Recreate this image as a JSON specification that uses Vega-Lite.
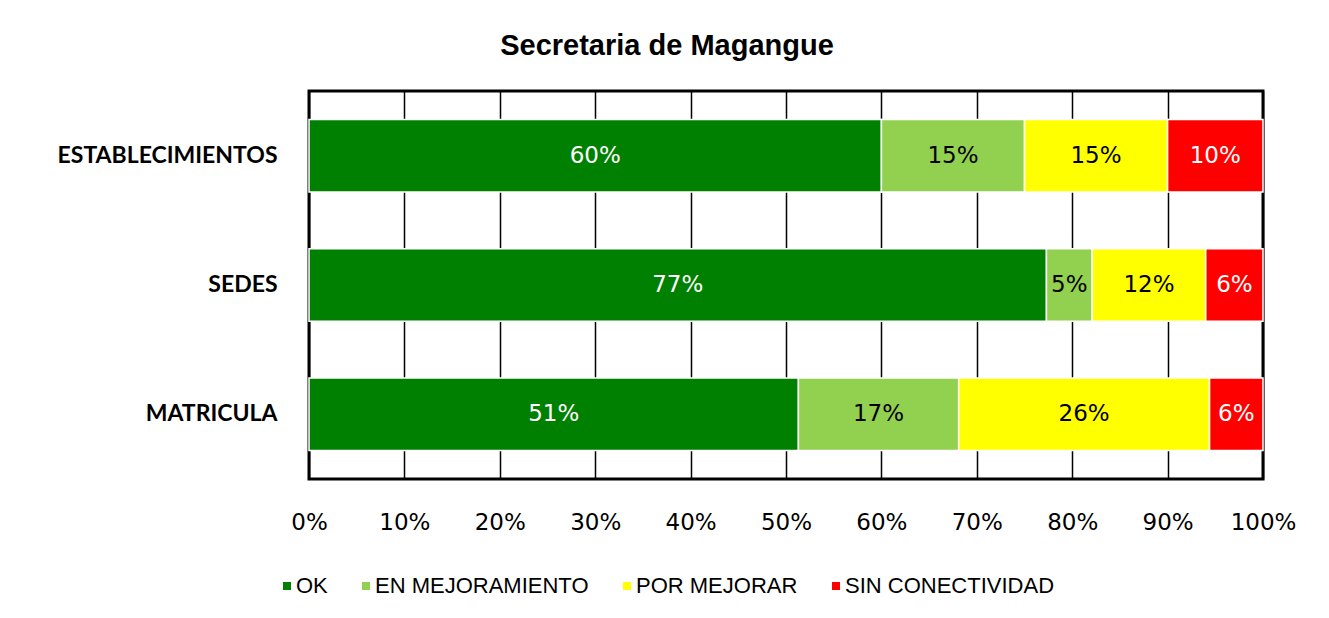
{
  "$schema": "https://vega.github.io/schema/vega-lite/v6.json",
  "autosize": {"type": "none"},
  "width": 954,
  "height": 388,
  "padding": {"left": 309, "top": 91, "right": 66, "bottom": 139},
  "background": "white",
  "title": {
    "text": "Secretaria de Magangue",
    "font": "Liberation Sans",
    "fontSize": 29,
    "fontWeight": "bold",
    "color": "black",
    "anchor": "middle",
    "frame": "group",
    "dx": -119,
    "offset": 30
  },
  "data": {
    "values": [
      {"cat": "ESTABLECIMIENTOS", "status": "OK", "ord": 1, "value": 0.60},
      {"cat": "ESTABLECIMIENTOS", "status": "EN MEJORAMIENTO", "ord": 2, "value": 0.15},
      {"cat": "ESTABLECIMIENTOS", "status": "POR MEJORAR", "ord": 3, "value": 0.15},
      {"cat": "ESTABLECIMIENTOS", "status": "SIN CONECTIVIDAD", "ord": 4, "value": 0.10},
      {"cat": "SEDES", "status": "OK", "ord": 1, "value": 0.773},
      {"cat": "SEDES", "status": "EN MEJORAMIENTO", "ord": 2, "value": 0.048},
      {"cat": "SEDES", "status": "POR MEJORAR", "ord": 3, "value": 0.119},
      {"cat": "SEDES", "status": "SIN CONECTIVIDAD", "ord": 4, "value": 0.060},
      {"cat": "MATRICULA", "status": "OK", "ord": 1, "value": 0.513},
      {"cat": "MATRICULA", "status": "EN MEJORAMIENTO", "ord": 2, "value": 0.168},
      {"cat": "MATRICULA", "status": "POR MEJORAR", "ord": 3, "value": 0.263},
      {"cat": "MATRICULA", "status": "SIN CONECTIVIDAD", "ord": 4, "value": 0.056}
    ]
  },
  "encoding": {
    "y": {
      "field": "cat",
      "type": "nominal",
      "sort": null,
      "scale": {"paddingInner": 0.44, "paddingOuter": 0.22},
      "axis": {
        "title": null,
        "domain": false,
        "ticks": false,
        "labelFont": "Lato",
        "labelFontWeight": "bold",
        "labelFontSize": 23,
        "labelColor": "black",
        "labelPadding": 32,
        "labelLimit": 400
      }
    }
  },
  "layer": [
    {
      "mark": {"type": "bar", "stroke": "white", "strokeWidth": 1.5},
      "encoding": {
        "x": {
          "field": "value",
          "type": "quantitative",
          "stack": "zero",
          "scale": {"domain": [0, 1], "nice": false},
          "axis": {
            "title": null,
            "format": ".0%",
            "values": [0, 0.1, 0.2, 0.3, 0.4, 0.5, 0.6, 0.7, 0.8, 0.9, 1],
            "domain": false,
            "ticks": false,
            "grid": true,
            "gridColor": "black",
            "gridWidth": 1.5,
            "gridOpacity": 1,
            "labelFont": "DejaVu Sans",
            "labelFontSize": 23,
            "labelColor": "black",
            "labelPadding": 32,
            "labelFlush": false
          }
        },
        "color": {
          "field": "status",
          "type": "nominal",
          "scale": {
            "domain": ["OK", "EN MEJORAMIENTO", "POR MEJORAR", "SIN CONECTIVIDAD"],
            "range": ["#008000", "#92D050", "#FFFF00", "#FF0000"]
          },
          "legend": {
            "title": null,
            "orient": "none",
            "direction": "horizontal",
            "legendX": -33,
            "legendY": 484,
            "symbolType": "square",
            "symbolSize": 64,
            "symbolStrokeWidth": 0,
            "labelFont": "Liberation Sans",
            "labelFontSize": 22,
            "labelColor": "black",
            "labelOffset": -2,
            "labelLimit": 400,
            "columnPadding": 27
          }
        },
        "order": {"field": "ord", "type": "quantitative"}
      }
    },
    {
      "mark": {"type": "text", "font": "DejaVu Sans", "fontSize": 23, "align": "center", "baseline": "middle"},
      "encoding": {
        "x": {"field": "value", "type": "quantitative", "stack": "zero", "bandPosition": 0.5},
        "detail": {"field": "status", "type": "nominal"},
        "order": {"field": "ord", "type": "quantitative"},
        "text": {"field": "value", "type": "quantitative", "format": ".0%"},
        "color": {
          "condition": {"test": "datum.status === 'OK' || datum.status === 'SIN CONECTIVIDAD'", "value": "white"},
          "value": "black"
        }
      }
    }
  ],
  "config": {
    "view": {"stroke": "black", "strokeWidth": 3}
  }
}
